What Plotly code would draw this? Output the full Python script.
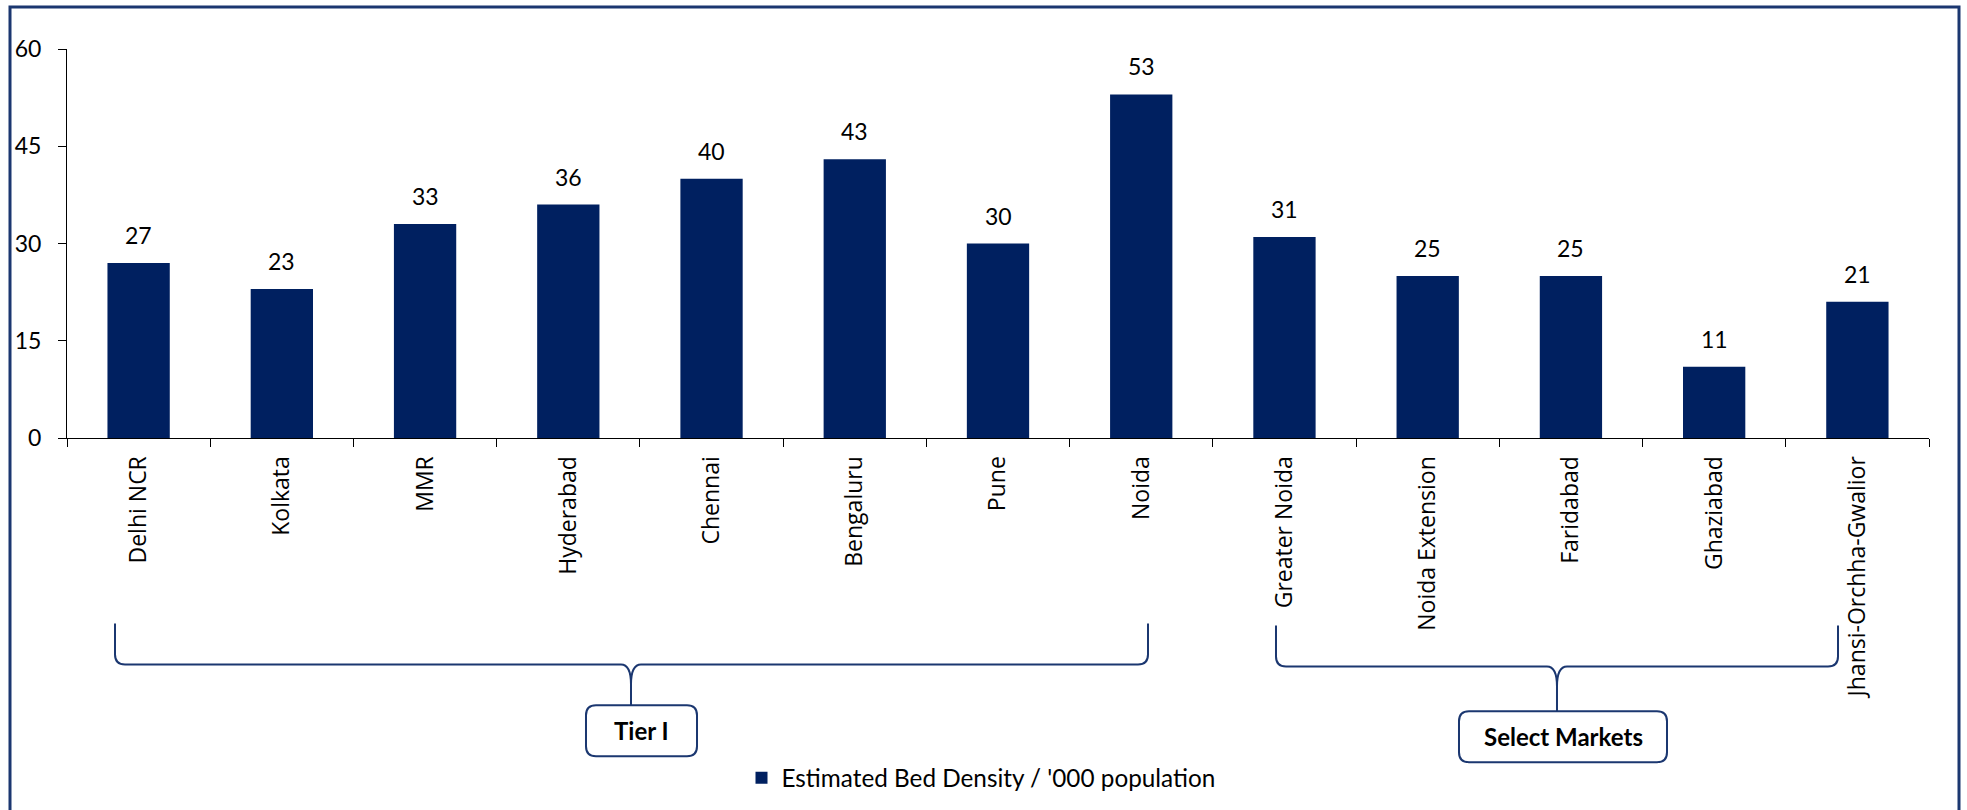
import plotly.graph_objects as go

categories = ["Delhi NCR", "Kolkata", "MMR", "Hyderabad", "Chennai", "Bengaluru", "Pune",
              "Noida", "Greater Noida", "Noida Extension", "Faridabad", "Ghaziabad",
              "Jhansi-Orchha-Gwalior"]
bed_density = [27, 23, 33, 36, 40, 43, 30, 53, 31, 25, 25, 11, 21]
series_name = "Estimated Bed Density / '000 population"
y_ticks = [0, 15, 30, 45, 60]
group_labels = ["Tier I", "Select Markets"]

W, H = 1967, 810
L, R, T, B = 67, 1929, 49, 439
NAVY = "#002060"
LINE = "#1b3770"


def xp(x):
    return (x - L) / (R - L)


def yp(y):
    return (B - y) / (B - T)


def P(x, y):
    return f"{xp(x):.5f},{yp(y):.5f}"


def brace(x1, x2, xm, ytop, yh, ytip):
    c = 10
    return (f"M {P(x1, ytop)} L {P(x1, yh - c)} Q {P(x1, yh)} {P(x1 + c, yh)} "
            f"L {P(xm - c, yh)} Q {P(xm, yh)} {P(xm, yh + c*2)} L {P(xm, ytip)} "
            f"M {P(xm, yh + c*2)} Q {P(xm, yh)} {P(xm + c, yh)} "
            f"L {P(x2 - c, yh)} Q {P(x2, yh)} {P(x2, yh - c)} L {P(x2, ytop)}")


def rrect(x0, y0, x1, y1, r=10):
    return (f"M {P(x0 + r, y0)} L {P(x1 - r, y0)} Q {P(x1, y0)} {P(x1, y0 + r)} "
            f"L {P(x1, y1 - r)} Q {P(x1, y1)} {P(x1 - r, y1)} "
            f"L {P(x0 + r, y1)} Q {P(x0, y1)} {P(x0, y1 - r)} "
            f"L {P(x0, y0 + r)} Q {P(x0, y0)} {P(x0 + r, y0)} Z")


fig = go.Figure()
fig.add_trace(go.Bar(x=categories, y=bed_density, name=series_name,
                     marker=dict(color=NAVY, line=dict(width=0)), showlegend=True))

for c, v in zip(categories, bed_density):
    fig.add_annotation(x=c, y=v, text=str(v), showarrow=False, yanchor="bottom",
                       yshift=12, font=dict(family="Lato", size=23, color="#000000"))

shapes = []
# outer border
shapes.append(dict(type="rect", xref="paper", yref="paper",
                   x0=xp(10), x1=xp(1959), y0=yp(7), y1=yp(830),
                   line=dict(color=LINE, width=3), fillcolor="rgba(0,0,0,0)", layer="below"))
# braces
shapes.append(dict(type="path", xref="paper", yref="paper",
                   path=brace(115, 1148, 631, 625, 666, 707),
                   line=dict(color=LINE, width=2)))
shapes.append(dict(type="path", xref="paper", yref="paper",
                   path=brace(1276, 1838, 1557, 627, 668, 713),
                   line=dict(color=LINE, width=2)))
# boxes
boxes = [(586, 707, 697, 758), (1459, 713, 1667, 764)]
for (x0, y0, x1, y1), lab in zip(boxes, group_labels):
    shapes.append(dict(type="path", xref="paper", yref="paper", path=rrect(x0, y0, x1, y1),
                       line=dict(color=LINE, width=2), fillcolor="white"))
    fig.add_annotation(xref="paper", yref="paper", x=xp((x0 + x1) / 2), y=yp((y0 + y1) / 2),
                       text=f"<b>{lab}</b>", showarrow=False, xanchor="center", yanchor="middle",
                       font=dict(family="Lato", size=24, color="#000000"))

fig.update_layout(
    width=W, height=H,
    margin=dict(l=L, r=W - R, t=T, b=H - B),
    paper_bgcolor="white", plot_bgcolor="white",
    bargap=0.565,
    shapes=shapes,
    showlegend=True,
    legend=dict(orientation="h", x=xp(981), xanchor="center", y=yp(778), yanchor="middle",
                font=dict(family="Lato", size=24.3, color="#000000")),
    font=dict(family="Lato", color="#000000"),
)
fig.update_xaxes(type="category", showline=True, linecolor="#000000", linewidth=1,
                 ticks="outside", tickson="boundaries", ticklen=8, tickcolor="#000000",
                 tickangle=-90, showgrid=False, zeroline=False,
                 tickfont=dict(family="Open Sans", size=23, color="#000000"),
                 ticklabelstandoff=8)
fig.update_yaxes(range=[0, 60], tickvals=y_ticks, showline=True, linecolor="#000000",
                 linewidth=1, ticks="outside", ticklen=8, tickcolor="#000000",
                 showgrid=False, zeroline=False,
                 tickfont=dict(family="Lato", size=23, color="#000000"),
                 ticklabelstandoff=12)

fig.write_html("out.html")
